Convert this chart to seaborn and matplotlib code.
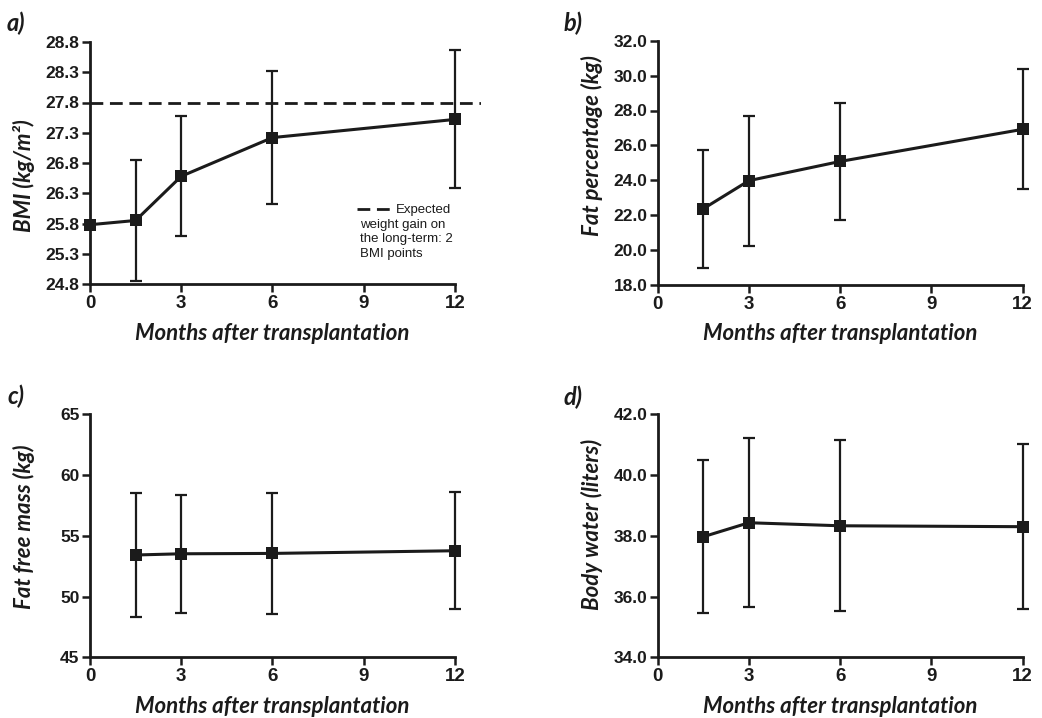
import numpy as np
import matplotlib
matplotlib.use("Agg")
import matplotlib.pyplot as plt
import seaborn as sns

# Follow-up time points (months after transplantation)
months_bmi = [0, 1.5, 3, 6, 12]
months = [1.5, 3, 6, 12]

# Mean and standard deviation per time point
bmi_mean = [25.78, 25.85, 26.58, 27.22, 27.52]
bmi_sd = [np.nan, 1.00, 0.99, 1.10, 1.14]
bmi_expected = 27.8

fat_mean = [22.37, 23.98, 25.08, 26.92]
fat_sd = [3.37, 3.72, 3.37, 3.44]

ffm_mean = [53.42, 53.52, 53.55, 53.77]
ffm_sd = [5.13, 4.84, 4.95, 4.82]

water_mean = [37.97, 38.43, 38.33, 38.30]
water_sd = [2.52, 2.78, 2.82, 2.71]

x_ticks = [0, 3, 6, 9, 12]
bmi_ticks = [24.8, 25.3, 25.8, 26.3, 26.8, 27.3, 27.8, 28.3, 28.8]
fat_ticks = [18, 20, 22, 24, 26, 28, 30, 32]
ffm_ticks = [45, 50, 55, 60, 65]
water_ticks = [34, 36, 38, 40, 42]

sns.set_style("ticks")
INK = "#1b1b1b"
TICK_FONT = "Liberation Sans"
LABEL_FONT = ["Lato", "DejaVu Sans"]
plt.rcParams["font.family"] = ["Liberation Sans", "DejaVu Sans"]

W, H = 1042, 718
fig = plt.figure(figsize=(W / 100, H / 100), dpi=100)
fig.patch.set_facecolor("white")


def make_axes(left, top, bottom, xmax, px_per_month=30.4):
    right = left + xmax * px_per_month
    ax = fig.add_axes([left / W, 1 - bottom / H, (right - left) / W, (bottom - top) / H])
    ax.set_xlim(0, xmax)
    return ax, right - left, bottom - top


def style_axes(ax, yticks, fmt, ylabel, width_px, height_px, label_center_y_px, top_px):
    ax.set_ylim(yticks[0], yticks[-1])
    ax.set_yticks(yticks)
    ax.set_yticklabels([fmt.format(t) for t in yticks])
    ax.set_xticks(x_ticks)
    ax.set_xticklabels([str(t) for t in x_ticks])
    for s in ("top", "right"):
        ax.spines[s].set_visible(False)
    for s in ("left", "bottom"):
        ax.spines[s].set_linewidth(2.0)
        ax.spines[s].set_color(INK)
    ax.spines["bottom"].set_bounds(0, 12)
    ax.tick_params(direction="out", length=5.5, width=1.8, color=INK, pad=2,
                   labelcolor=INK)
    ax.tick_params(axis="y", labelsize=12.5)
    ax.tick_params(axis="x", labelsize=13.5, pad=2.5)
    for lab in ax.get_xticklabels() + ax.get_yticklabels():
        lab.set_fontfamily(TICK_FONT)
        lab.set_fontweight("bold")
    ax.set_xlabel("Months after transplantation", fontsize=16, fontweight="bold",
                  fontstyle="italic", family=LABEL_FONT, color=INK, va="center")
    ax.set_ylabel(ylabel, fontsize=16, fontweight="bold", fontstyle="italic",
                  family=LABEL_FONT, color=INK, va="center")
    xmax = ax.get_xlim()[1]
    ax.xaxis.set_label_coords(6 / xmax, -49 / height_px)
    ax.yaxis.set_label_coords(-66 / width_px, 1 - (label_center_y_px - top_px) / height_px)
    ax.set_facecolor("none")


def draw_series(ax, x, mean, sd):
    sns.lineplot(x=x, y=mean, ax=ax, color=INK, linewidth=2.2, marker="s",
                 markersize=8, markeredgewidth=0, errorbar=None, clip_on=False,
                 zorder=4)
    x = np.asarray(x, dtype=float)
    mean = np.asarray(mean, dtype=float)
    sd = np.asarray(sd, dtype=float)
    ok = np.isfinite(sd)
    ax.errorbar(x[ok], mean[ok], yerr=sd[ok], fmt="none", ecolor=INK,
                elinewidth=1.6, capsize=4.5, capthick=1.6, clip_on=False, zorder=3)


# a) BMI
ax_a, wa, ha = make_axes(90, 42, 284, 12.85)
draw_series(ax_a, months_bmi, bmi_mean, bmi_sd)
exp_line = ax_a.axhline(bmi_expected, color=INK, linewidth=2.0,
                        linestyle=(0, (4.6, 2.4)), zorder=2, label="Expected")
style_axes(ax_a, bmi_ticks, "{:.1f}", "BMI (kg/m²)", wa, ha, 176, 42)
leg = ax_a.legend(handles=[exp_line], loc="center left",
                  bbox_to_anchor=(0.683, 1 - (210 - 42) / ha), frameon=False,
                  borderpad=0, borderaxespad=0, handlelength=2.6, handletextpad=0.35,
                  prop={"family": "Liberation Sans", "size": 9.5})
for t in leg.get_texts():
    t.set_color(INK)
ax_a.text(0.691, 1 - (219 - 42) / ha, "weight gain on\nthe long-term: 2\nBMI points",
          transform=ax_a.transAxes, ha="left", va="top", fontsize=9.5,
          family="Liberation Sans", color=INK, linespacing=1.25)

# b) Fat percentage
ax_b, wb, hb = make_axes(657.7, 40.7, 285, 12.3)
draw_series(ax_b, months, fat_mean, fat_sd)
style_axes(ax_b, fat_ticks, "{:.1f}", "Fat percentage (kg)", wb, hb, 146, 40.7)

# c) Fat free mass
ax_c, wc, hc = make_axes(90, 414.3, 657.3, 12.3)
draw_series(ax_c, months, ffm_mean, ffm_sd)
style_axes(ax_c, ffm_ticks, "{:d}", "Fat free mass (kg)", wc, hc, 527, 414.3)

# d) Body water
ax_d, wd, hd = make_axes(657.7, 414.3, 657.3, 12.3)
draw_series(ax_d, months, water_mean, water_sd)
style_axes(ax_d, water_ticks, "{:.1f}", "Body water (liters)", wd, hd, 524, 414.3)

# Panel letters
for label, xp, yp in [("a)", 7, 23), ("b)", 564, 23), ("c)", 7, 396), ("d)", 564, 397)]:
    fig.text(xp / W, 1 - yp / H, label, ha="left", va="center", fontsize=17,
             fontweight="bold", fontstyle="italic", family=LABEL_FONT, color=INK)

fig.savefig("out.png", dpi=100, facecolor="white")
